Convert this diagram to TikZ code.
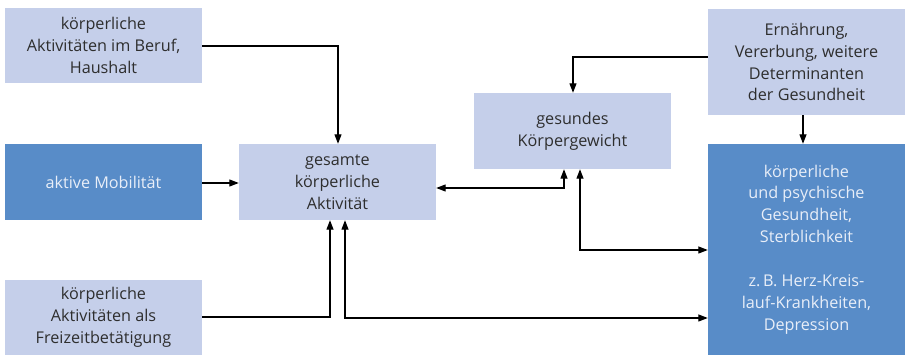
\documentclass[tikz,border=0pt]{standalone}
\usepackage{fontspec}
\setmainfont{Open Sans}
\usetikzlibrary{arrows.meta}
\definecolor{lightbox}{HTML}{C5CFEA}
\definecolor{darkbox}{HTML}{588CC8}
\definecolor{darktext}{HTML}{2E2E2E}
\definecolor{lighttext}{HTML}{E8EEF8}
\begin{document}
\begin{tikzpicture}[x=1pt,y=-1pt,
  box/.style={rectangle, inner sep=0pt, align=center, font=\fontsize{16.2}{21.9}\selectfont},
  lbox/.style={box, fill=lightbox, text=darktext},
  dbox/.style={box, fill=darkbox, text=lighttext},
  conn/.style={line width=1.2pt, -{Triangle[length=9.5pt,width=7pt]}},
  conn2/.style={line width=1.2pt, {Triangle[length=9.5pt,width=7pt]}-{Triangle[length=9.5pt,width=7pt]}}]
\useasboundingbox (0,0) rectangle (906,355);
\node[lbox, minimum width=197pt, minimum height=75pt] (beruf) at (103.5,45.5) {körperliche\\Aktivitäten im Beruf,\\Haushalt};
\node[dbox, minimum width=197pt, minimum height=76pt] (mob) at (103.5,182) {aktive Mobilität};
\node[lbox, minimum width=197pt, minimum height=75pt] (frei) at (103.5,317.5) {körperliche\\Aktivitäten als\\Freizeitbetätigung};
\node[lbox, minimum width=197pt, minimum height=76pt] (ges) at (337.5,182) {gesamte\\körperliche\\Aktivität};
\node[lbox, minimum width=197pt, minimum height=76pt] (gew) at (572.5,131) {gesundes\\Körpergewicht};
\node[lbox, minimum width=197pt, minimum height=106pt] (ern) at (806.5,62) {Ernährung,\\Vererbung, weitere\\Determinanten\\der Gesundheit};
\node[dbox, minimum width=197pt, minimum height=211pt] (gsd) at (806.5,249.5) {körperliche\\und psychische\\Gesundheit,\\Sterblichkeit\\[21.9pt]z.\,B. Herz-Kreis-\\lauf-Krankheiten,\\Depression};
% connectors
\coordinate (c1) at (338,46);
\draw[conn] (beruf.east |- c1) -- (c1) -- (c1 |- ges.north);
\coordinate (c2) at (0,183);
\draw[conn] (mob.east |- c2) -- (ges.west |- c2);
\coordinate (c3) at (564,188);
\draw[conn2] (ges.east |- c3) -- (c3) -- (c3 |- gew.south);
\coordinate (c4) at (580,250);
\draw[conn2] (c4 |- gew.south) -- (c4) -- (gsd.west |- c4);
\coordinate (c5) at (330,317);
\draw[conn] (frei.east |- c5) -- (c5) -- (c5 |- ges.south);
\coordinate (c6) at (345,318);
\draw[conn2] (c6 |- ges.south) -- (c6) -- (gsd.west |- c6);
\coordinate (c7) at (573,57);
\draw[conn] (ern.west |- c7) -- (c7) -- (c7 |- gew.north);
\coordinate (c8) at (803,0);
\draw[conn] (c8 |- ern.south) -- (c8 |- gsd.north);
\end{tikzpicture}
\end{document}
